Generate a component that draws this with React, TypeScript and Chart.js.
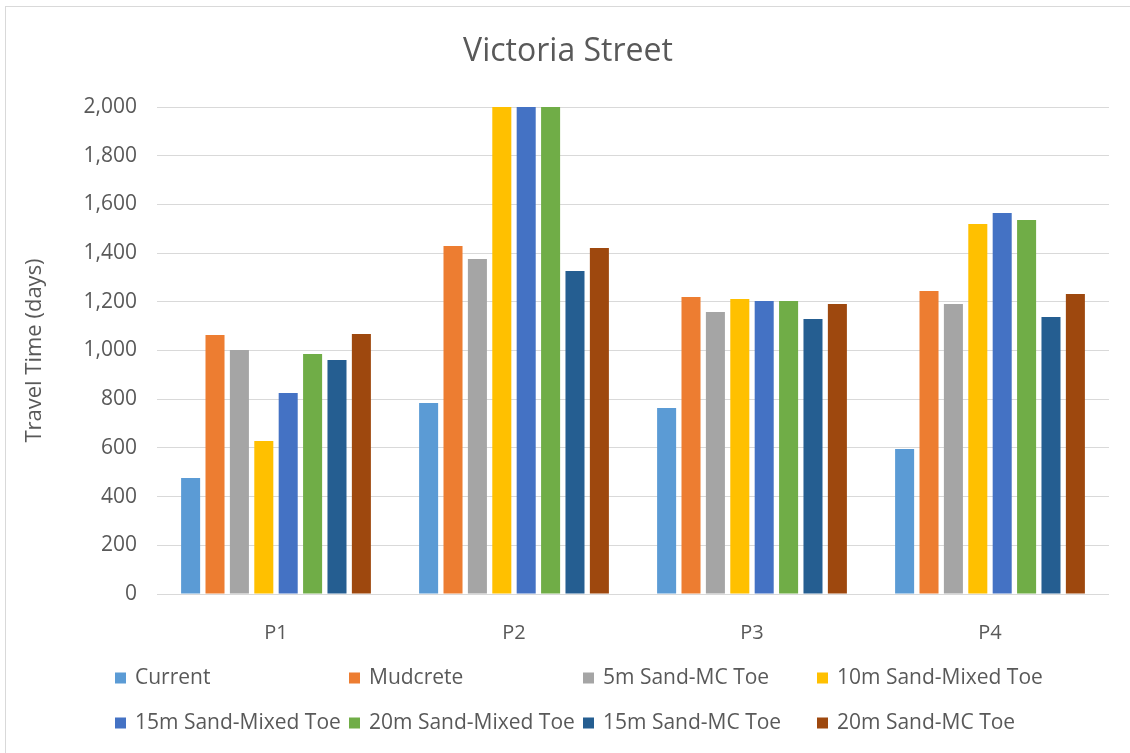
import React, { useEffect, useRef } from "react";
import { Chart, registerables } from "chart.js";

Chart.register(...registerables);

const categories = ["P1", "P2", "P3", "P4"];
const seriesNames = [
  "Current",
  "Mudcrete",
  "5m Sand-MC Toe",
  "10m Sand-Mixed Toe",
  "15m Sand-Mixed Toe",
  "20m Sand-Mixed Toe",
  "15m Sand-MC Toe",
  "20m Sand-MC Toe",
];
const current = [476, 784, 764, 595];
const mudcrete = [1064, 1429, 1220, 1244];
const sand5mMC = [1002, 1376, 1158, 1191];
const sand10mMixed = [628, 2000, 1211, 1520];
const sand15mMixed = [825, 2000, 1203, 1565];
const sand20mMixed = [986, 2000, 1203, 1536];
const sand15mMC = [961, 1326, 1129, 1138];
const sand20mMC = [1068, 1421, 1191, 1232];
const seriesValues = [current, mudcrete, sand5mMC, sand10mMixed, sand15mMixed, sand20mMixed, sand15mMC, sand20mMC];
const seriesColors = ["#5B9BD5", "#ED7D31", "#A5A5A5", "#FFC000", "#4472C4", "#70AD47", "#255E91", "#9E480E"];
const yTicks = [0, 200, 400, 600, 800, 1000, 1200, 1400, 1600, 1800, 2000];

const FONT = '"Open Sans", "DejaVu Sans", sans-serif';
const TEXT = "#595959";

const gridLegend = {
  id: "gridLegend",
  afterDraw(chart: any) {
    const ctx = chart.ctx;
    const colW = 234;
    const x0 = 109;
    const rowY = [chart.height - 75, chart.height - 30];
    const box = 11;
    ctx.save();
    ctx.font = `21px ${FONT}`;
    ctx.textBaseline = "middle";
    ctx.textAlign = "left";
    chart.data.datasets.forEach((ds: any, i: number) => {
      const row = Math.floor(i / 4);
      const col = i % 4;
      const x = x0 + col * colW;
      const y = rowY[row];
      ctx.fillStyle = ds.backgroundColor;
      ctx.fillRect(x, y - box / 2, box, box);
      ctx.fillStyle = TEXT;
      ctx.fillText(ds.label, x + 20, y);
    });
    ctx.restore();
  },
};

export default function App() {
  const ref = useRef<HTMLCanvasElement | null>(null);

  useEffect(() => {
    let chart: Chart | null = null;
    let cancelled = false;
    const make = () => {
      if (cancelled || !ref.current) return;
      chart = new Chart(ref.current, {
        type: "bar",
        data: {
          labels: categories,
          datasets: seriesNames.map((name, i) => ({
            label: name,
            data: seriesValues[i],
            backgroundColor: seriesColors[i],
            borderWidth: 0,
            categoryPercentage: 0.82,
            barPercentage: 0.78,
          })),
        },
        options: {
          animation: false,
          responsive: false,
          maintainAspectRatio: false,
          layout: { padding: { left: 0, right: 0, top: 0, bottom: 89 } },
          plugins: {
            legend: { display: false },
            tooltip: { enabled: false },
            title: {
              display: true,
              text: "Victoria Street",
              color: TEXT,
              font: { family: FONT, size: 32, weight: "normal" },
              padding: { top: 26, bottom: 35.6 },
            },
          },
          scales: {
            x: {
              grid: { display: false, drawTicks: false },
              border: { display: false },
              ticks: { color: TEXT, font: { family: FONT, size: 20 }, padding: 27 },
              afterFit: (s: any) => {
                s.height = 70;
              },
            },
            y: {
              min: 0,
              max: 2000,
              afterBuildTicks: (s: any) => {
                s.ticks = yTicks.map((v) => ({ value: v }));
              },
              grid: { color: "#d9d9d9", lineWidth: 1, drawTicks: false },
              border: { display: false },
              ticks: {
                color: TEXT,
                font: { family: FONT, size: 21 },
                padding: 20,
                callback: (v: any) => Number(v).toLocaleString("en-US"),
              },
              title: {
                display: true,
                text: "Travel Time (days)",
                color: TEXT,
                font: { family: FONT, size: 22 },
                padding: { top: 16, bottom: 0 },
              },
              afterFit: (s: any) => {
                s.width = 151;
              },
            },
            spacer: {
              type: "linear",
              position: "right",
              display: true,
              grid: { display: false, drawTicks: false },
              border: { display: false },
              ticks: { display: false },
              afterFit: (s: any) => {
                s.width = 21;
              },
            },
          },
        },
        plugins: [gridLegend],
      });
    };
    const fonts: any = (document as any).fonts;
    if (fonts && fonts.load) {
      Promise.all([fonts.load(`20px "Open Sans"`), fonts.load(`32px "Open Sans"`)])
        .catch(() => null)
        .then(make);
    } else {
      make();
    }
    return () => {
      cancelled = true;
      if (chart) chart.destroy();
    };
  }, []);

  return (
    <div
      style={{
        position: "absolute",
        left: 5,
        top: 6,
        width: 1125,
        height: 747,
        borderTop: "1px solid #d9d9d9",
        borderLeft: "1px solid #d9d9d9",
        boxSizing: "border-box",
        background: "#fff",
      }}
    >
      <canvas ref={ref} width={1124} height={746} style={{ display: "block" }} />
    </div>
  );
}
